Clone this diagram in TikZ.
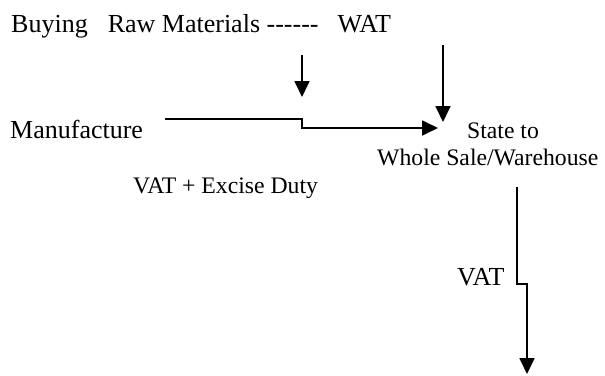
\documentclass[tikz,border=0pt]{standalone}
\usepackage{fontspec}
\setmainfont{Liberation Serif}
\usetikzlibrary{arrows.meta}
\begin{document}
\begin{tikzpicture}[x=1pt,y=-1pt,
  big/.style={font=\fontsize{26}{31}\selectfont, inner sep=0pt},
  small/.style={font=\fontsize{23.7}{27}\selectfont, inner sep=0pt},
  conn/.style={line width=1.8pt, -{Triangle[length=16pt,width=15pt]}}]
\useasboundingbox (0,0) rectangle (605,375);
% texts
\node[big, anchor=base west] (buy) at (11,32) {Buying\hspace{20pt}Raw Materials -{}-{}-{}-{}-{}-\hspace{19pt}WAT};
\node[big, anchor=base west] (man) at (10,138) {Manufacture};
\node[small, anchor=base] (st1) at (503,138) {State to};
\node[small, anchor=base west] (st2) at (377,165) {Whole Sale/Warehouse};
\node[small, anchor=base west] (vex) at (133,193) {VAT + Excise Duty};
\node[big, anchor=base west] (vat) at (457,285) {VAT};
% connector end points
\coordinate (m0) at (165,119);
\coordinate (mtip) at (438,128);
\coordinate (s0) at (302,55);
\coordinate (s1) at (302,97);
\coordinate (l0) at (443,45);
\coordinate (l1) at (443,122);
\coordinate (v0) at (517,187);
\coordinate (v1) at (527,374);
% connectors
\draw[conn] (m0) -- (302,119) -- (302,128) -- (mtip);
\draw[conn] (s0) -- (s1);
\draw[conn] (l0) -- (l1);
\draw[conn] (v0) -- (517,284) -- (527,284) -- (v1);
\end{tikzpicture}
\end{document}
